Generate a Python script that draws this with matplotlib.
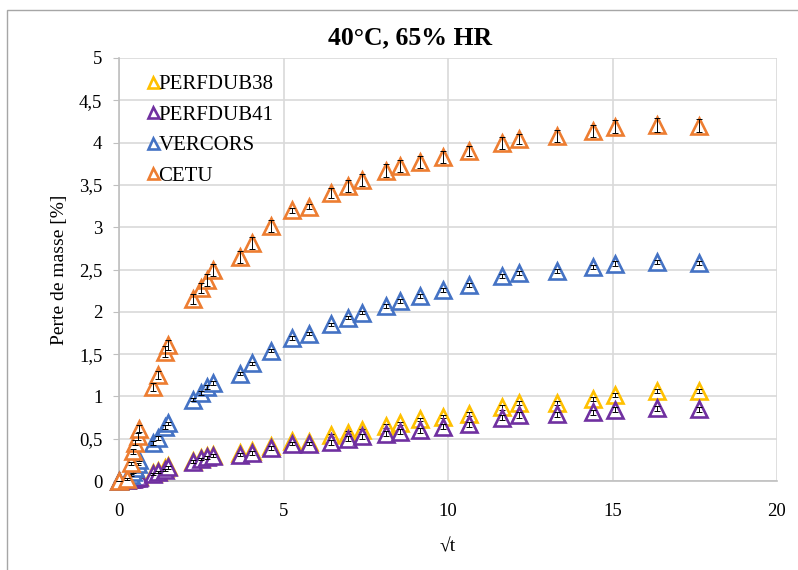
import matplotlib
matplotlib.use("Agg")
import matplotlib.pyplot as plt
from matplotlib.patches import Rectangle

# racine du temps (axe commun aux quatre series)
sqrt_t = [0.0, 0.25, 0.36, 0.43, 0.49, 0.57, 0.62, 1.02, 1.19, 1.40, 1.50,
          2.25, 2.48, 2.68, 2.85, 3.68, 4.03, 4.61, 5.25, 5.78, 6.44, 6.97,
          7.38, 8.12, 8.54, 9.15, 9.86, 10.64, 11.63, 12.15, 13.30, 14.42,
          15.08, 16.34, 17.64]

perfdub38 = [0, 0.01, 0.02, 0.03, 0.04, 0.05, 0.06, 0.09, 0.12, 0.15, 0.18,
             0.24, 0.27, 0.29, 0.31, 0.33, 0.35, 0.41, 0.47, 0.46, 0.54, 0.57,
             0.60, 0.65, 0.68, 0.73, 0.76, 0.79, 0.87, 0.92, 0.92, 0.97,
             1.02, 1.06, 1.06]
perfdub41 = [0, 0.01, 0.02, 0.02, 0.03, 0.04, 0.05, 0.08, 0.11, 0.13, 0.16,
             0.23, 0.26, 0.28, 0.30, 0.31, 0.33, 0.39, 0.44, 0.44, 0.46, 0.50,
             0.53, 0.56, 0.58, 0.60, 0.64, 0.67, 0.75, 0.78, 0.79, 0.81,
             0.84, 0.86, 0.85]
vercors = [0, 0.03, 0.07, 0.11, 0.15, 0.20, 0.25, 0.45, 0.51, 0.64, 0.68,
           0.96, 1.04, 1.11, 1.16, 1.27, 1.39, 1.54, 1.69, 1.74, 1.85, 1.93,
           1.99, 2.07, 2.13, 2.19, 2.26, 2.32, 2.42, 2.46, 2.48, 2.53,
           2.57, 2.59, 2.58]
cetu = [0, 0.02, 0.21, 0.35, 0.45, 0.53, 0.62, 1.11, 1.25, 1.53, 1.61,
        2.15, 2.28, 2.38, 2.49, 2.65, 2.81, 3.01, 3.20, 3.24, 3.40, 3.49,
        3.56, 3.67, 3.72, 3.77, 3.83, 3.90, 4.00, 4.04, 4.08, 4.14,
        4.19, 4.21, 4.20]

# ecarts-types (barres d'erreur)
err_perfdub38 = [0, 0.005, 0.01, 0.01, 0.01, 0.01, 0.01, 0.01, 0.01, 0.015, 0.015,
                 0.015, 0.015, 0.02, 0.02, 0.02, 0.02, 0.02, 0.02, 0.02, 0.02, 0.02,
                 0.02, 0.02, 0.02, 0.02, 0.02, 0.02, 0.025, 0.025, 0.025, 0.025,
                 0.025, 0.025, 0.025]
err_perfdub41 = [0, 0.005, 0.01, 0.01, 0.01, 0.01, 0.01, 0.01, 0.01, 0.015, 0.015,
                 0.015, 0.015, 0.02, 0.02, 0.02, 0.02, 0.02, 0.02, 0.02, 0.03, 0.03,
                 0.03, 0.03, 0.03, 0.03, 0.03, 0.03, 0.03, 0.03, 0.03, 0.03,
                 0.03, 0.03, 0.03]
err_vercors = [0, 0.005, 0.01, 0.01, 0.01, 0.01, 0.015, 0.02, 0.02, 0.02, 0.02,
               0.02, 0.02, 0.02, 0.02, 0.02, 0.02, 0.02, 0.02, 0.02, 0.02, 0.02,
               0.02, 0.02, 0.025, 0.025, 0.025, 0.025, 0.025, 0.025, 0.025, 0.025,
               0.025, 0.025, 0.025]
err_cetu = [0, 0.01, 0.02, 0.03, 0.03, 0.04, 0.04, 0.05, 0.05, 0.06, 0.06,
            0.06, 0.06, 0.07, 0.07, 0.07, 0.07, 0.07, 0.03, 0.03, 0.06, 0.07,
            0.07, 0.08, 0.07, 0.07, 0.07, 0.06, 0.07, 0.06, 0.07, 0.07,
            0.08, 0.08, 0.08]

series = [
    ("PERFDUB38", perfdub38, err_perfdub38, "#FFC000"),
    ("PERFDUB41", perfdub41, err_perfdub41, "#7030A0"),
    ("VERCORS", vercors, err_vercors, "#4472C4"),
    ("CETU", cetu, err_cetu, "#ED7D31"),
]

plt.rcParams['font.family'] = ['Liberation Serif', 'DejaVu Serif']

fig = plt.figure(figsize=(7.98, 5.70), dpi=100)
ax = fig.add_axes([119 / 798, 1 - 481 / 570, 658 / 798, 423 / 570])

z = 3
for name, vals, err, col in series:
    ax.plot(sqrt_t, vals, linestyle='none', marker='^', markersize=11,
            markerfacecolor='white', markeredgecolor=col, markeredgewidth=1.9,
            label=name, zorder=z, clip_on=False)
    ax.errorbar(sqrt_t, vals, yerr=err, fmt='none', ecolor='black',
                elinewidth=0.7, capsize=2.5, capthick=0.7, zorder=z + 0.5,
                clip_on=False)
    z += 1

ax.set_xlim(0, 20)
ax.set_ylim(0, 5)
ax.set_xticks([0, 5, 10, 15, 20])
yt = [0, 0.5, 1, 1.5, 2, 2.5, 3, 3.5, 4, 4.5, 5]
ax.set_yticks(yt)
ax.set_yticklabels([f"{v:g}".replace('.', ',') for v in yt])
ax.tick_params(axis='both', labelsize=13.5, colors='black')
ax.tick_params(axis='x', length=0, pad=16)
ax.tick_params(axis='y', length=4, color='#BFBFBF', pad=8)

ax.grid(True, color='#D9D9D9', linewidth=1.2)
ax.set_axisbelow(True)
for s in ['top', 'right']:
    ax.spines[s].set_visible(False)
for s in ['left', 'bottom']:
    ax.spines[s].set_color('#BFBFBF')
    ax.spines[s].set_linewidth(1.2)

ax.set_xlabel('√t', fontsize=14, labelpad=13)
ax.set_ylabel('Perte de masse [%]', fontsize=14, labelpad=8)
fig.text(0.514, 1 - 38 / 570, '40°C, 65% HR', ha='center', va='center',
         fontsize=18.5, fontweight='bold')

leg = ax.legend(loc='upper left', bbox_to_anchor=(0.025, 0.99), frameon=False,
                fontsize=15, handlelength=0.5, handletextpad=0.0,
                labelspacing=0.52, markerscale=0.72, borderaxespad=0.2)

# cadre du graphique
fig.patches.append(Rectangle((7 / 798, -0.01), 1.0, 1 - 10 / 570 + 0.01,
                             transform=fig.transFigure, fill=False,
                             edgecolor='#A6A6A6', linewidth=1.0))

fig.savefig('out.png', dpi=100)
